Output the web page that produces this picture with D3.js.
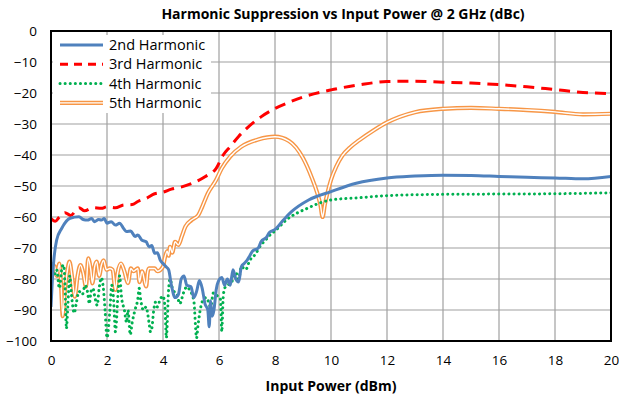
<!DOCTYPE html>
<html>
<head>
<meta charset="utf-8">
<script src="https://cdn.jsdelivr.net/npm/d3@7"></script>
<style>
  body { margin: 0; background: #fff; }
  text { font-family: "Open Sans", sans-serif; fill: #000; }
</style>
</head>
<body>
<svg id="chart" width="619" height="402"></svg>
<script>
// tick values
var xTicks = [0, 2, 4, 6, 8, 10, 12, 14, 16, 18, 20];
var yTicks = [0, -10, -20, -30, -40, -50, -60, -70, -80, -90, -100];

var names = ["2nd Harmonic", "3rd Harmonic", "4th Harmonic", "5th Harmonic"];

// [input power dBm, suppression dBc]
var h2 = [[0,-89],[0.05,-80],[0.1,-74],[0.2,-67.5],[0.38,-63.7],[0.68,-60.4],[1.0,-59.9],[1.15,-60.8],[1.3,-61],[1.45,-60.5],
  [1.55,-61.5],[1.7,-60.8],[1.8,-61],[1.9,-60.5],[2.0,-62],[2.15,-61.5],[2.3,-62.6],[2.45,-62],[2.6,-63.8],[2.7,-64.7],
  [2.85,-64.5],[3.0,-66.3],[3.1,-65.8],[3.25,-67.5],[3.4,-68],[3.5,-69.6],[3.6,-69.2],[3.7,-71.7],[3.8,-71.5],[3.9,-73.9],
  [4.0,-75],[4.1,-76],[4.2,-77],[4.3,-82],[4.43,-86],[4.55,-85],[4.65,-80],[4.75,-79],[4.85,-82],[5.0,-82.5],
  [5.1,-86],[5.2,-84],[5.3,-80.5],[5.4,-83],[5.5,-88],[5.6,-90],[5.65,-95.4],[5.7,-87],[5.75,-92],[5.82,-90],
  [5.9,-83.5],[6.0,-80.3],[6.1,-79.5],[6.2,-82],[6.3,-80],[6.4,-82],[6.5,-77],[6.6,-80],[6.7,-81],[6.8,-76],
  [6.9,-75],[7.0,-74],[7.1,-72.5],[7.2,-71],[7.4,-70],[7.5,-68],[7.7,-66.5],[7.8,-65],[8.0,-64],[8.3,-61],
  [8.6,-58.2],[9.2,-54.5],[10,-51.8],[10.9,-49.1],[12,-47.4],[13,-46.8],[14,-46.5],[15,-46.6],[16,-46.9],[17,-47.2],
  [18,-47.4],[19,-47.7],[20,-46.9]];

var h3 = [[0,-60.5],[0.15,-61.4],[0.3,-60],[0.5,-58.6],[0.7,-59.5],[1.0,-57],[1.2,-58],[1.5,-57],[1.8,-57.2],[2.0,-56.7],
  [2.3,-57],[2.6,-56.1],[2.9,-56],[3.1,-55],[3.4,-54],[3.7,-52.5],[4.0,-52],[4.3,-51],[4.7,-50.2],[5.1,-48.9],
  [5.5,-47],[5.9,-44.3],[6.15,-40],[6.4,-37.3],[6.7,-34],[7.0,-31.3],[7.5,-27.7],[8.0,-25],[8.5,-23],[9,-21.3],
  [10,-19],[11,-17.4],[12,-16.3],[13,-16.2],[14,-16.5],[15,-16.8],[16,-17.3],[17,-18],[18,-18.9],[19,-19.8],[20,-20.2]];

var h4 = [[0,-75],[0.1,-79],[0.2,-77],[0.3,-83],[0.4,-76],[0.45,-75.5],[0.5,-82],[0.55,-96],[0.6,-89],[0.67,-79],
  [0.73,-85],[0.83,-91],[0.9,-88],[1.0,-84],[1.12,-85],[1.22,-82],[1.3,-84],[1.37,-88],[1.43,-84],[1.5,-83],
  [1.57,-86],[1.65,-88.5],[1.72,-83],[1.8,-79.6],[1.87,-83],[1.93,-90],[2.0,-99],[2.1,-90.5],[2.17,-82],[2.23,-86],
  [2.3,-97],[2.4,-84],[2.45,-79],[2.52,-86],[2.62,-90],[2.7,-94],[2.75,-90],[2.83,-98],[2.9,-94],[3.0,-90],
  [3.1,-86.5],[3.15,-83],[3.2,-86.5],[3.3,-90],[3.4,-89],[3.45,-91],[3.5,-94],[3.55,-97],[3.6,-96],[3.67,-90],
  [3.73,-87.5],[3.8,-89],[3.9,-86.5],[4.0,-85.5],[4.07,-89],[4.12,-99],[4.2,-83.5],[4.25,-80],[4.35,-83.5],[4.5,-85],
  [4.6,-88],[4.73,-84.5],[4.85,-82.5],[4.95,-83.5],[5.1,-87],[5.2,-99],[5.25,-95],[5.35,-89],[5.45,-86.5],[5.55,-86],
  [5.7,-89],[5.8,-84.5],[5.95,-85.5],[6.05,-86.5],[6.1,-97],[6.15,-86],[6.2,-83],[6.3,-82],[6.45,-81],[6.6,-78],
  [6.7,-80],[6.8,-76],[6.95,-77],[7.1,-74],[7.3,-72],[7.5,-69],[7.65,-67.6],[7.8,-66],[8.0,-64.5],[8.4,-61],
  [9.2,-57],[10,-54.5],[11,-53.8],[12,-53.1],[14,-52.7],[16,-52.6],[18,-52.5],[20,-52.2]];

var h5 = [[0,-75],[0.13,-76],[0.2,-79],[0.3,-75],[0.36,-82],[0.42,-92],[0.5,-83.5],[0.58,-77.6],[0.66,-74.4],[0.75,-79.2],
  [0.85,-85.7],[0.95,-79],[1.05,-75.5],[1.15,-78],[1.25,-82.5],[1.33,-73.3],[1.42,-77],[1.48,-81.4],[1.56,-76],[1.63,-74.4],
  [1.72,-79],[1.8,-75.5],[1.88,-74],[1.98,-77],[2.1,-76.6],[2.2,-77],[2.3,-83.5],[2.38,-78],[2.5,-75],[2.62,-77.5],
  [2.75,-81.3],[2.85,-76.6],[2.95,-77.5],[3.1,-76.6],[3.16,-81],[3.25,-77.5],[3.4,-82.4],[3.45,-78],[3.5,-76.6],[3.7,-76.6],
  [3.8,-77.5],[4.0,-76],[4.07,-73],[4.15,-71],[4.2,-72.5],[4.25,-69.6],[4.33,-71.5],[4.43,-68],[4.55,-69],[4.67,-66.3],
  [4.8,-63.1],[5.02,-61],[5.26,-59.4],[5.4,-56.7],[5.6,-52.4],[5.9,-48],[6.1,-44.3],[6.4,-40.5],[6.8,-37.3],[7.4,-35],
  [8.0,-34.1],[8.5,-35.5],[9.0,-41],[9.3,-47],[9.5,-52],[9.62,-56],[9.7,-60],[9.78,-56],[9.88,-52],[10.0,-48],
  [10.2,-43.5],[10.4,-40.3],[10.7,-37.4],[11.0,-35.3],[11.5,-32.2],[12,-29.5],[13,-26.2],[14,-25.1],[15,-24.8],[16,-25.1],
  [17,-25.5],[18,-26.1],[19,-26.9],[20,-26.7]];

var margin = { top: 31, right: 8, bottom: 61, left: 51 },
    width = 619 - margin.left - margin.right,
    height = 402 - margin.top - margin.bottom;

var svg = d3.select("#chart");

var x = d3.scaleLinear().domain([0, 20]).range([0, width]);
var y = d3.scaleLinear().domain([-100, 0]).range([height, 0]);

var g = svg.append("g")
    .attr("transform", "translate(" + margin.left + "," + margin.top + ")");

svg.append("defs").append("clipPath")
    .attr("id", "clip")
  .append("rect")
    .attr("width", width)
    .attr("height", height);

// grid
g.append("g")
    .selectAll("line")
    .data(xTicks)
    .enter().append("line")
    .attr("x1", function (d) { return x(d); })
    .attr("x2", function (d) { return x(d); })
    .attr("y1", 0)
    .attr("y2", height)
    .attr("stroke", "#a0a0a0")
    .attr("stroke-width", 1.2);

g.append("g")
    .selectAll("line")
    .data(yTicks)
    .enter().append("line")
    .attr("x1", 0)
    .attr("x2", width)
    .attr("y1", function (d) { return y(d); })
    .attr("y2", function (d) { return y(d); })
    .attr("stroke", "#a0a0a0")
    .attr("stroke-width", 1.2);

// axes (labels only)
var xAxis = g.append("g")
    .attr("transform", "translate(0," + height + ")")
    .call(d3.axisBottom(x).tickValues(xTicks).tickSize(0).tickPadding(14));
var yAxis = g.append("g")
    .call(d3.axisLeft(y).tickValues(yTicks).tickSize(0).tickPadding(14));
[xAxis, yAxis].forEach(function (a) {
    a.select(".domain").remove();
    a.selectAll("text").style("font-family", "Open Sans, sans-serif").style("font-size", "13.5px").attr("fill", "#000");
});

// legend background
g.append("rect")
    .attr("x", 2)
    .attr("y", 4)
    .attr("width", 158)
    .attr("height", 78)
    .attr("fill", "#fff");

var line = d3.line()
    .x(function (d) { return x(d[0]); })
    .y(function (d) { return y(d[1]); })
    .curve(d3.curveMonotoneX);

var plot = g.append("g").attr("clip-path", "url(#clip)");

// 5th: double line
plot.append("path").attr("d", line(h5)).attr("fill", "none")
    .attr("stroke", "#f79646").attr("stroke-width", 4.2);
plot.append("path").attr("d", line(h5)).attr("fill", "none")
    .attr("stroke", "#fff").attr("stroke-width", 1.4);

plot.append("path").attr("d", line(h4)).attr("fill", "none")
    .attr("stroke", "#00b050").attr("stroke-width", 3)
    .attr("stroke-dasharray", "0.1 5").attr("stroke-linecap", "round");

plot.append("path").attr("d", line(h3)).attr("fill", "none")
    .attr("stroke", "#ff0000").attr("stroke-width", 3)
    .attr("stroke-dasharray", "11 7");

plot.append("path").attr("d", line(h2)).attr("fill", "none")
    .attr("stroke", "#4f81bd").attr("stroke-width", 3);

// frame
g.append("rect")
    .attr("width", width)
    .attr("height", height)
    .attr("fill", "none")
    .attr("stroke", "#000")
    .attr("stroke-width", 2);

// legend
var legend = g.selectAll(".legend")
    .data(names)
    .enter().append("g")
    .attr("class", "legend")
    .attr("transform", function (d, i) { return "translate(0," + (14 + i * 19.3) + ")"; });

legend.append("line")
    .attr("x1", 9).attr("x2", 52).attr("y1", 0).attr("y2", 0)
    .each(function (d, i) {
        var s = d3.select(this);
        if (i == 0) s.attr("stroke", "#4f81bd").attr("stroke-width", 3);
        if (i == 1) s.attr("stroke", "#ff0000").attr("stroke-width", 3).attr("stroke-dasharray", "8 6");
        if (i == 2) s.attr("stroke", "#00b050").attr("stroke-width", 3).attr("stroke-dasharray", "0.1 5").attr("stroke-linecap", "round");
        if (i == 3) s.attr("stroke", "#f79646").attr("stroke-width", 4.2);
    });
legend.filter(function (d, i) { return i == 3; }).append("line")
    .attr("x1", 9).attr("x2", 52).attr("y1", 0).attr("y2", 0)
    .attr("stroke", "#fff").attr("stroke-width", 1.4);

legend.append("text")
    .attr("x", 58)
    .attr("dy", "0.35em")
    .style("font-size", "14.5px")
    .text(function (d) { return d; });

// titles
svg.append("text")
    .attr("x", 343)
    .attr("y", 19)
    .attr("text-anchor", "middle")
    .style("font-size", "14px")
    .style("font-weight", "bold")
    .text("Harmonic Suppression vs Input Power @ 2 GHz (dBc)");

svg.append("text")
    .attr("x", 331)
    .attr("y", 391)
    .attr("text-anchor", "middle")
    .style("font-size", "14px")
    .style("font-weight", "bold")
    .text("Input Power (dBm)");
</script>
</body>
</html>
